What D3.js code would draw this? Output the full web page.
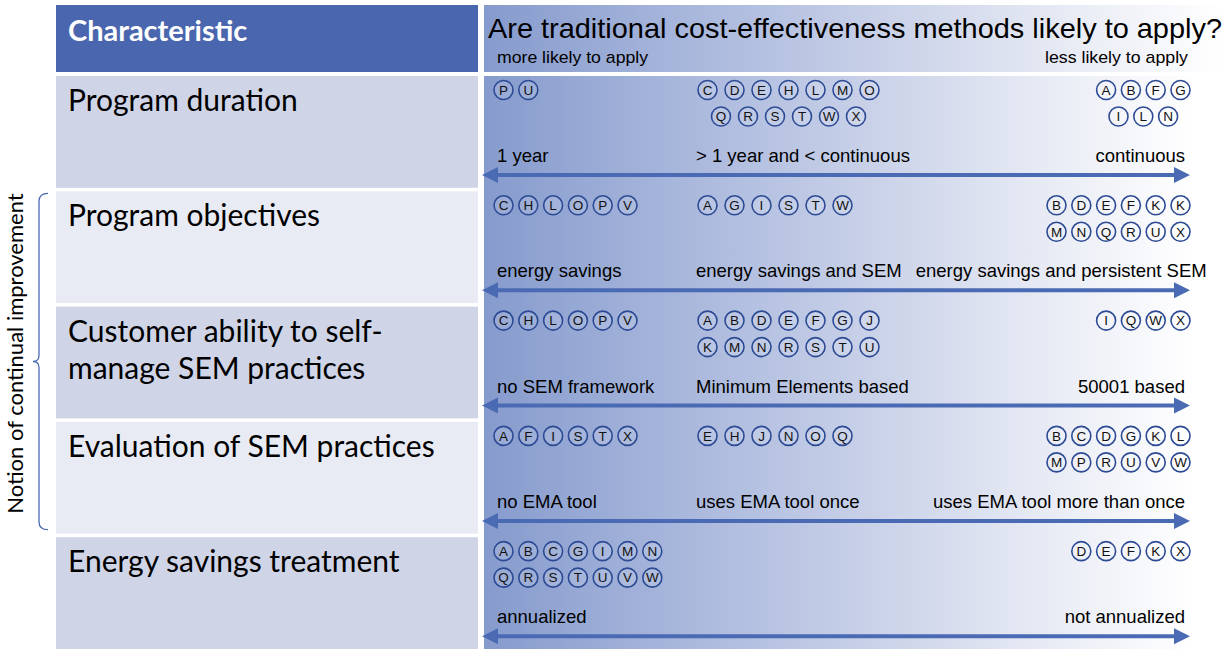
<!DOCTYPE html>
<html><head><meta charset="utf-8">
<script src="https://cdn.jsdelivr.net/npm/d3@7"></script>
<style>html,body{margin:0;padding:0;background:#fff;}svg{display:block;}</style>
</head><body>
<svg id="chart" width="1225" height="649"></svg>
<script>
// ---------- data ----------
const headerLeft = "Characteristic";
const headerRight = "Are traditional cost-effectiveness methods likely to apply?";
const directionLabels = ["more likely to apply", "less likely to apply"];
const bracketLabel = "Notion of continual improvement";
const characteristics = [
  "Program duration",
  "Program objectives",
  "Customer ability to self-\nmanage SEM practices",
  "Evaluation of SEM practices",
  "Energy savings treatment"
];
const positions = ["more", "mid", "less"];
const scaleLabels = [
  ["1 year", "> 1 year and < continuous", "continuous"],
  ["energy savings", "energy savings and SEM", "energy savings and persistent SEM"],
  ["no SEM framework", "Minimum Elements based", "50001 based"],
  ["no EMA tool", "uses EMA tool once", "uses EMA tool more than once"],
  ["annualized", "", "not annualized"]
];
const programs = [
  [["PU"], ["CDEHLMO", "QRSTWX"], ["ABFG", "ILN"]],
  [["CHLOPV"], ["AGISTW"], ["BDEFKK", "MNQRUX"]],
  [["CHLOPV"], ["ABDEFGJ", "KMNRSTU"], ["IQWX"]],
  [["AFISTX"], ["EHJNOQ"], ["BCDGKL", "MPRUVW"]],
  [["ABCGIMN", "QRSTUVW"], [], ["DEFKX"]]
];
const bracketRows = ["Program objectives", "Evaluation of SEM practices"];

// ---------- layout ----------
const W = 1225, H = 649;
const svg = d3.select("#chart");
const blue = "#4a6ab4";
const sansUI = "Lato, 'Open Sans', sans-serif";
const arial = "'Liberation Sans', Arial, sans-serif";

const y = d3.scaleBand().domain(characteristics).range([76, 649]).paddingInner(0.03).paddingOuter(0);
const leftX0 = 56, leftX1 = 478, rightX0 = 484, rightX1 = 1195;
const labelX = d3.scaleOrdinal().domain(positions).range([497, 696, 1185]);
const circleX = d3.scaleOrdinal().domain(positions).range([503.5, 707.5, 1180.5]);
const pitch = d3.scaleOrdinal().domain(positions).range([24.8, 27, 24.8]);

const defs = svg.append("defs");
const grad = defs.append("linearGradient").attr("id", "g").attr("x1", 0).attr("x2", 1).attr("y1", 0).attr("y2", 0);
[[0, "#869bcd"], [0.3, "#abb9dd"], [0.6, "#d0d7eb"], [0.8, "#e9ecf5"], [1, "#ffffff"]]
  .forEach(([o, c]) => grad.append("stop").attr("offset", o).attr("stop-color", c));

// header
svg.append("rect").attr("x", leftX0).attr("y", 5).attr("width", leftX1 - leftX0).attr("height", 67).attr("fill", "#4a66ae");
svg.append("text").attr("x", 68).attr("y", 41).attr("fill", "#fff").attr("font-family", sansUI)
  .attr("font-weight", "bold").attr("font-size", 29).text(headerLeft);
svg.append("rect").attr("x", rightX0).attr("y", 5).attr("width", 1222 - rightX0).attr("height", 67).attr("fill", "url(#g)");
svg.append("text").attr("x", 488).attr("y", 38).attr("font-family", arial).attr("font-size", 28)
  .attr("textLength", 734).attr("lengthAdjust", "spacingAndGlyphs").attr("fill", "#000").text(headerRight);
svg.append("text").attr("x", 497).attr("y", 63).attr("font-family", arial).attr("font-size", 17)
  .attr("textLength", 151).attr("lengthAdjust", "spacingAndGlyphs").text(directionLabels[0]);
svg.append("text").attr("x", 1188).attr("y", 63).attr("text-anchor", "end").attr("font-family", arial).attr("font-size", 17)
  .attr("textLength", 143).attr("lengthAdjust", "spacingAndGlyphs").text(directionLabels[1]);

// body gradient panel
svg.append("rect").attr("x", rightX0).attr("y", 76).attr("width", rightX1 - rightX0).attr("height", H - 76).attr("fill", "url(#g)");

// left cells
const rowG = svg.selectAll("g.row").data(characteristics).join("g").attr("class", "row");
rowG.append("rect").attr("x", leftX0).attr("y", d => y(d)).attr("width", leftX1 - leftX0)
  .attr("height", y.bandwidth()).attr("fill", (d, i) => i % 2 === 0 ? "#cfd4e6" : "#e9ebf4");
rowG.each(function (d) {
  const t = d3.select(this).append("text").attr("font-family", sansUI).attr("font-size", 30).attr("fill", "#000");
  d.split("\n").forEach((ln, k) => t.append("tspan").attr("x", 68).attr("y", y(d) + 35 + k * 37).text(ln));
});

// arrows, labels, circles
const arrowOff = 99;
const lblSize = 18.5;
characteristics.forEach((c, i) => {
  const ay = y(c) + arrowOff;
  const xa = 482, xb = 1190, hl = 16, hw = 8;
  svg.append("line").attr("x1", xa + hl - 2).attr("x2", xb - hl + 2).attr("y1", ay).attr("y2", ay)
    .attr("stroke", blue).attr("stroke-width", 4);
  svg.append("path").attr("d", `M${xa},${ay}L${xa + hl},${ay - hw}L${xa + hl},${ay + hw}Z`).attr("fill", blue);
  svg.append("path").attr("d", `M${xb},${ay}L${xb - hl},${ay - hw}L${xb - hl},${ay + hw}Z`).attr("fill", blue);

  const labs = scaleLabels[i];
  const ly = y(c) + 86;
  const t0 = svg.append("text").attr("x", labelX("more")).attr("y", ly).attr("font-family", arial).attr("font-size", lblSize).text(labs[0]);
  let midEnd = labelX("more") + t0.node().getComputedTextLength();
  if (labs[1]) {
    const t1 = svg.append("text").attr("x", labelX("mid")).attr("y", ly).attr("font-family", arial).attr("font-size", lblSize).text(labs[1]);
    midEnd = labelX("mid") + t1.node().getComputedTextLength();
  }
  const t2 = svg.append("text").attr("y", ly).attr("font-family", arial).attr("font-size", lblSize).text(labs[2]);
  const w2 = t2.node().getComputedTextLength();
  t2.attr("x", Math.max(labelX("less") - w2, midEnd + 14));

  positions.forEach((p, j) => {
    const lines = programs[i][j];
    if (!lines.length) return;
    const pw = pitch(p);
    const firstLen = lines[0].length;
    const firstStart = p === "less" ? circleX(p) - (firstLen - 1) * pw : circleX(p);
    const firstCenter = firstStart + (firstLen - 1) * pw / 2;
    lines.forEach((ln, k) => {
      const start = firstCenter - (ln.length - 1) * pw / 2;
      const cy = y(c) + 14 + k * 26.5;
      ln.split("").forEach((letter, m) => {
        const cx = start + m * pw;
        svg.append("circle").attr("cx", cx).attr("cy", cy).attr("r", 9.5)
          .attr("fill", "rgba(255,255,255,0.15)").attr("stroke", "#2c4a94").attr("stroke-width", 1.6);
        svg.append("text").attr("x", cx).attr("y", cy + 4.8).attr("text-anchor", "middle")
          .attr("font-family", arial).attr("font-size", 13.5).attr("fill", "#111").text(letter);
      });
    });
  });
});

// bracket
const by0 = y(bracketRows[0]) + 2, by1 = y(bracketRows[1]) + y.bandwidth() - 4;
const bm = (by0 + by1) / 2;
svg.append("path")
  .attr("d", `M48,${by0} Q39,${by0} 39,${by0 + 8} L39,${bm - 6} Q39,${bm} 33,${bm} Q39,${bm} 39,${bm + 6} L39,${by1 - 8} Q39,${by1} 48,${by1}`)
  .attr("fill", "none").attr("stroke", blue).attr("stroke-width", 1.3);
svg.append("text").attr("transform", `translate(23,${bm - 8}) rotate(-90)`).attr("text-anchor", "middle")
  .attr("font-family", sansUI).attr("font-size", 22).text(bracketLabel);
</script>
</body></html>
